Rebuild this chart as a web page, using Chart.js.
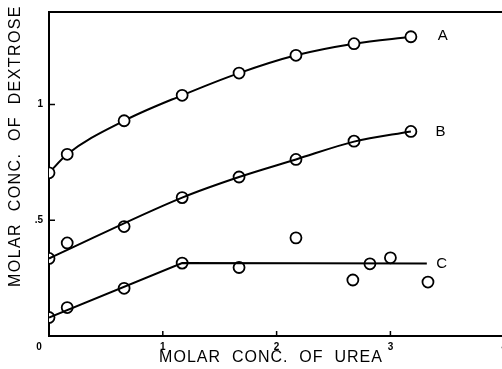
<!DOCTYPE html>
<html>
<head>
<meta charset="utf-8">
<script src="https://cdn.jsdelivr.net/npm/chart.js@4.4.1/dist/chart.umd.min.js"></script>
<style>
  html, body { margin: 0; padding: 0; background: #fff; overflow: hidden; }
  #wrap { width: 512px; height: 369px; }
</style>
</head>
<body>
<div id="wrap"><canvas id="chart" width="512" height="369"></canvas></div>
<script>
// Molar conc. of urea (x) vs molar conc. of dextrose (y)
const ureaAB = [0, 0.16, 0.66, 1.17, 1.67, 2.17, 2.68, 3.18]
const dexA = [0.705, 0.785, 0.93, 1.04, 1.136, 1.213, 1.263, 1.293]
const dexB = [0.335, 0.402, 0.473, 0.598, 0.687, 0.763, 0.842, 0.884]

const ureaC = [0, 0.16, 0.66, 1.17, 1.67, 2.17, 2.67, 2.82, 3.0, 3.33]
const dexC = [0.08, 0.123, 0.206, 0.315, 0.296, 0.424, 0.242, 0.312, 0.338, 0.233]

// drawn curve for B (fit, does not pass through every point)
const fitBx = [0, 1.17, 1.67, 2.17, 2.68, 3.18]
const fitBy = [0.335, 0.598, 0.687, 0.763, 0.84, 0.884]

// fitted line for C (rise then plateau)
const fitCx = [0, 1.17, 3.32]
const fitCy = [0.08, 0.315, 0.313]

const curveLabels = ['A', 'B', 'C']
const labelX = [3.46, 3.44, 3.45]
const labelY = [1.296, 0.88, 0.313]

const xTicks = [1, 2, 3, 4]
const yTicks = [0.5, 1]

const pts = (xs, ys) => xs.map((x, i) => ({ x, y: ys[i] }))

const pointStyle = {
  pointRadius: 5.5,
  pointBorderWidth: 1.8,
  pointBackgroundColor: '#fff',
  pointBorderColor: '#000',
  pointHoverRadius: 5.5
}

const tickFont = { family: '"Liberation Sans", Arial, sans-serif', size: 10, weight: 'bold' }

// draws the inward ticks, axis titles, origin label and curve letters
const annotate = {
  id: 'annotate',
  afterDraw(chart) {
    const { ctx, scales: { x, y }, chartArea } = chart
    ctx.save()
    ctx.strokeStyle = '#000'
    ctx.lineWidth = 1.5
    ctx.beginPath()
    yTicks.forEach(v => {
      const py = y.getPixelForValue(v)
      ctx.moveTo(chartArea.left, py)
      ctx.lineTo(chartArea.left + 6, py)
    })
    xTicks.forEach(v => {
      const px = x.getPixelForValue(v)
      ctx.moveTo(px, chartArea.bottom)
      ctx.lineTo(px, chartArea.bottom - 5)
    })
    ctx.stroke()

    ctx.fillStyle = '#000'
    ctx.textAlign = 'center'
    ctx.textBaseline = 'middle'
    ctx.font = 'bold 10px "Liberation Sans", Arial, sans-serif'
    ctx.fillText('0', chartArea.left - 10, chartArea.bottom + 11)

    ctx.font = '15px "Liberation Sans", Arial, sans-serif'
    curveLabels.forEach((t, i) => {
      ctx.fillText(t, x.getPixelForValue(labelX[i]), y.getPixelForValue(labelY[i]))
    })

    ctx.font = '16px "Liberation Sans", Arial, sans-serif'
    ctx.letterSpacing = '1.0px'
    ctx.fillText('MOLAR  CONC.  OF  UREA', 271, 358)

    ctx.translate(16, 146)
    ctx.rotate(-Math.PI / 2)
    ctx.letterSpacing = '1.4px'
    ctx.fillText('MOLAR  CONC.  OF  DEXTROSE', 0, 0)
    ctx.restore()
  }
}

new Chart(document.getElementById('chart'), {
  type: 'line',
  data: {
    datasets: [
      { label: 'A', data: pts(ureaAB, dexA), borderColor: '#000', borderWidth: 2,
        cubicInterpolationMode: 'monotone', ...pointStyle },
      { label: 'B fit', data: pts(fitBx, fitBy), borderColor: '#000', borderWidth: 2,
        cubicInterpolationMode: 'monotone', pointRadius: 0, pointHoverRadius: 0 },
      { label: 'C fit', data: pts(fitCx, fitCy), borderColor: '#000', borderWidth: 2,
        pointRadius: 0, pointHoverRadius: 0 },
      { label: 'B', data: pts(ureaAB, dexB), showLine: false, ...pointStyle },
      { label: 'C', data: pts(ureaC, dexC), showLine: false, ...pointStyle }
    ]
  },
  options: {
    responsive: false,
    animation: false,
    devicePixelRatio: 1,
    layout: { padding: { left: 0, top: 0, right: 7, bottom: 0 } },
    plugins: { legend: { display: false }, tooltip: { enabled: false } },
    scales: {
      x: {
        type: 'linear',
        min: 0,
        max: 4,
        grid: { display: false, drawTicks: false },
        border: { display: true, color: '#000', width: 2 },
        ticks: {
          stepSize: 1,
          padding: 5,
          color: '#000',
          font: tickFont,
          callback: v => (v === 0 ? '' : String(v))
        },
        afterFit: s => { s.height = 33 }
      },
      top: {
        type: 'linear',
        position: 'top',
        min: 0,
        max: 4,
        grid: { display: false, drawTicks: false },
        border: { display: true, color: '#000', width: 2 },
        ticks: { display: false },
        afterFit: s => { s.height = 11 }
      },
      y: {
        type: 'linear',
        min: 0,
        max: 1.4,
        grid: { display: false, drawTicks: false },
        border: { display: true, color: '#000', width: 2 },
        ticks: {
          stepSize: 0.5,
          padding: 6,
          color: '#000',
          font: tickFont,
          callback: v => (v === 0.5 ? '.5' : v === 1 ? '1' : '')
        },
        afterFit: s => { s.width = 49 }
      }
    }
  },
  plugins: [annotate]
})
</script>
</body>
</html>
